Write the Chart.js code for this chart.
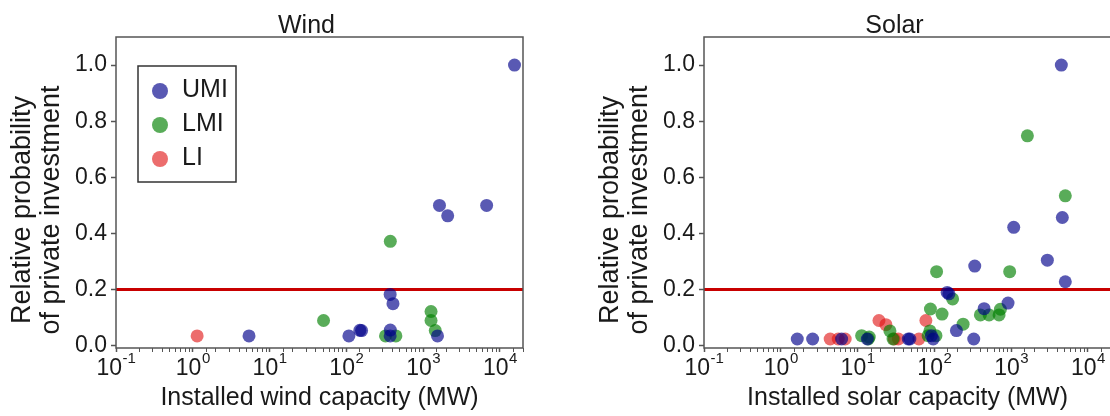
<!DOCTYPE html>
<html>
<head>
<meta charset="utf-8">
<script src="https://cdn.jsdelivr.net/npm/chart.js@4"></script>
<style>
  html, body { margin: 0; padding: 0; background: #fff; overflow: hidden; width: 1110px; height: 416px; }
  body { position: relative; }
  .panel { position: absolute; top: 0; width: 560px; height: 416px; }
  #windPanel { left: 0; }
  #solarPanel { left: 588px; }
</style>
</head>
<body>
<div class="panel" id="windPanel"><canvas id="windChart" width="560" height="416"></canvas></div>
<div class="panel" id="solarPanel"><canvas id="solarChart" width="560" height="416"></canvas></div>
<script>
// income groups
const groups = ['UMI', 'LMI', 'LI'];

// wind: [installed capacity MW, relative probability]
const windUMI = [[5.4, 0.035], [108, 0.035], [150, 0.055], [158, 0.054], [372, 0.035], [374, 0.056],
  [372, 0.183], [405, 0.150], [1540, 0.035], [1633, 0.5], [2090, 0.463], [6720, 0.5], [15500, 1.0]];
const windLMI = [[50.5, 0.09], [324, 0.035], [442, 0.035], [374, 0.372], [1268, 0.122], [1268, 0.09], [1440, 0.054]];
const windLI = [[1.14, 0.035]];

// solar
const solarUMI = [[1.64, 0.024], [2.6, 0.024], [6.2, 0.024], [13.4, 0.024], [45.7, 0.024], [48, 0.024],
  [91.6, 0.036], [96.6, 0.024], [147, 0.19], [155, 0.185], [194, 0.054], [326, 0.024], [336, 0.284],
  [445, 0.132], [912, 0.152], [1081, 0.422], [2965, 0.305], [4510, 1.0], [4645, 0.457], [5080, 0.228]];
const solarLMI = [[11.3, 0.036], [14.2, 0.031], [13.8, 0.024], [26.4, 0.053], [29, 0.024], [83, 0.036],
  [87.5, 0.053], [89, 0.131], [105, 0.036], [107, 0.264], [126, 0.113], [173, 0.167], [237, 0.077],
  [398, 0.11], [516, 0.11], [697, 0.11], [725, 0.13], [958, 0.264], [1630, 0.748], [5080, 0.534]];
const solarLI = [[4.4, 0.024], [5.6, 0.024], [6.9, 0.024], [19, 0.09], [23.4, 0.075], [30, 0.024],
  [34, 0.024], [63, 0.024], [77.6, 0.09]];

const yTicks = [0.0, 0.2, 0.4, 0.6, 0.8, 1.0];
const xTickExponents = ['-1', '0', '1', '2', '3', '4'];
const threshold = 0.2;

const colors = ['rgba(0,0,139,0.65)', 'rgba(0,128,0,0.65)', 'rgba(225,20,20,0.62)'];
const FONT = '"Liberation Sans", Arial, sans-serif';
const TEXT = '#1a1a1a';
const AXIS = '#555';

Chart.defaults.font.family = FONT;
Chart.defaults.color = TEXT;

function isPow10(v) {
  const l = Math.log10(v);
  return Math.abs(l - Math.round(l)) < 1e-6;
}

// red threshold line, axes box, titles, 10^n tick labels, legend
const decorPlugin = {
  id: 'decor',
  beforeDatasetsDraw(chart) {
    const { ctx, chartArea: a, scales: { y } } = chart;
    const py = y.getPixelForValue(threshold);
    ctx.save();
    ctx.strokeStyle = '#c80000';
    ctx.lineWidth = 3;
    ctx.beginPath();
    ctx.moveTo(a.left, py);
    ctx.lineTo(a.right, py);
    ctx.stroke();
    ctx.restore();
  },
  afterDraw(chart, args, opts) {
    const { ctx, chartArea: a, scales: { x } } = chart;
    ctx.save();
    ctx.strokeStyle = AXIS;
    ctx.lineWidth = 1.5;
    ctx.strokeRect(a.left, a.top, a.right - a.left, a.bottom - a.top);

    ctx.fillStyle = TEXT;
    ctx.textAlign = 'center';
    ctx.textBaseline = 'alphabetic';
    ctx.font = '25px ' + FONT;
    ctx.fillText(opts.title, (a.left + a.right) / 2 - 13, 33);

    // x tick labels as 10 with raised exponent
    ctx.textAlign = 'left';
    x.ticks.forEach(t => {
      if (!isPow10(t.value)) return;
      const exp = xTickExponents[Math.round(Math.log10(t.value)) + 1];
      const px = x.getPixelForValue(t.value);
      ctx.font = '23px ' + FONT;
      const wBase = ctx.measureText('10').width;
      ctx.font = '15px ' + FONT;
      const wExp = ctx.measureText(exp).width;
      const left = px - (wBase + wExp) / 2;
      ctx.font = '23px ' + FONT;
      ctx.fillText('10', left, a.bottom + 27);
      ctx.font = '15px ' + FONT;
      ctx.fillText(exp, left + wBase + 0.5, a.bottom + 15);
    });

    // y axis title, two lines
    ctx.textAlign = 'center';
    ctx.translate(0, 210);
    ctx.rotate(-Math.PI / 2);
    ctx.font = '27px ' + FONT;
    ctx.textBaseline = 'middle';
    ctx.fillText('Relative probability', 0, 23);
    ctx.fillText('of private investment', 0, 52);
    ctx.restore();

    if (opts.legend) {
      ctx.save();
      ctx.strokeStyle = '#333';
      ctx.lineWidth = 1.5;
      ctx.strokeRect(138, 66, 98, 116);
      ctx.font = '25px ' + FONT;
      ctx.textBaseline = 'middle';
      ctx.textAlign = 'left';
      chart.data.datasets.forEach((ds, i) => {
        const cy = 91 + i * 34;
        ctx.fillStyle = ds.backgroundColor;
        ctx.beginPath();
        ctx.arc(160, cy, 8, 0, Math.PI * 2);
        ctx.fill();
        ctx.fillStyle = TEXT;
        ctx.fillText(ds.label, 182, cy - 1);
      });
      ctx.restore();
    }
  }
};

function makeChart(id, title, xTitle, series, legend) {
  return new Chart(document.getElementById(id), {
    type: 'scatter',
    data: {
      datasets: series.map((pts, i) => ({
        label: groups[i],
        data: pts.map(p => ({ x: p[0], y: p[1] })),
        backgroundColor: colors[i],
        borderWidth: 0,
        pointRadius: 6.5,
        pointHoverRadius: 6.5
      }))
    },
    options: {
      responsive: false,
      animation: false,
      layout: { padding: { top: 37, right: 37, left: 0, bottom: 0 } },
      plugins: {
        legend: { display: false },
        tooltip: { enabled: false },
        decor: { title: title, legend: legend }
      },
      scales: {
        x: {
          type: 'logarithmic',
          min: 0.1,
          max: 20000,
          afterFit: s => { s.height = 68; },
          border: { display: false },
          grid: {
            drawOnChartArea: false,
            tickLength: 4,
            tickColor: AXIS,
            tickWidth: c => (c.tick && isPow10(c.tick.value) ? 1.5 : 1)
          },
          ticks: {
            autoSkip: false,
            maxRotation: 0,
            minRotation: 0,
            padding: 0,
            callback: () => ''
          },
          title: {
            display: true,
            text: xTitle,
            color: TEXT,
            font: { size: 25, lineHeight: 1.2 },
            padding: { top: 0, bottom: 3 }
          }
        },
        y: {
          type: 'linear',
          min: -0.008,
          max: 1.1,
          afterFit: s => { s.width = 116; },
          afterBuildTicks: s => { s.ticks = yTicks.map(v => ({ value: v })); },
          border: { display: false },
          grid: { drawOnChartArea: false, tickLength: 5, tickColor: AXIS, tickWidth: 1.5 },
          ticks: {
            padding: 4,
            color: TEXT,
            font: { size: 23 },
            callback: v => v.toFixed(1)
          }
        }
      }
    },
    plugins: [decorPlugin]
  });
}

makeChart('windChart', 'Wind', 'Installed wind capacity (MW)', [windUMI, windLMI, windLI], true);
makeChart('solarChart', 'Solar', 'Installed solar capacity (MW)', [solarUMI, solarLMI, solarLI], false);
</script>
</body>
</html>
